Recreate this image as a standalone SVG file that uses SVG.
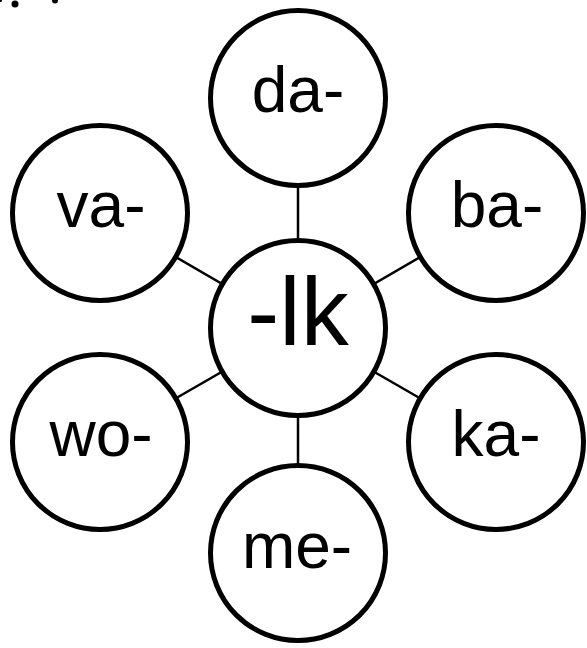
<svg xmlns="http://www.w3.org/2000/svg" width="587" height="648" viewBox="0 0 587 648">
<style>
.node{fill:#fff;stroke:#000;stroke-width:5}
.lbl{font-family:"Liberation Sans",Arial,sans-serif;font-size:64px;fill:#000;text-anchor:middle}
.big{font-size:96px}
.edge{stroke:#000;stroke-width:2.5}
</style>
<rect width="587" height="648" fill="#fff"/>
<g id="marks" fill="#000">
<circle cx="15" cy="4" r="3.5"/>
<circle cx="55" cy="0.5" r="3"/>
<circle cx="0.5" cy="0.5" r="1.5"/>
</g>
<g id="connectors">
<line class="edge" x1="298" y1="328" x2="298" y2="98"/>
<line class="edge" x1="298" y1="328" x2="298" y2="553"/>
<line class="edge" x1="298" y1="328" x2="100" y2="213"/>
<line class="edge" x1="298" y1="328" x2="496" y2="213"/>
<line class="edge" x1="298" y1="328" x2="100" y2="442"/>
<line class="edge" x1="298" y1="328" x2="496" y2="442"/>
</g>
<g id="n-da"><circle class="node" cx="298" cy="98" r="87.5"/><text class="lbl" x="298" y="112">da-</text></g>
<g id="n-va"><circle class="node" cx="100" cy="213" r="87.5"/><text class="lbl" x="101" y="227">va-</text></g>
<g id="n-ba"><circle class="node" cx="496" cy="213" r="87.5"/><text class="lbl" x="497" y="227">ba-</text></g>
<g id="n-lk"><circle class="node" cx="298" cy="328" r="87.5"/><text class="lbl big" x="298" y="345">-lk</text></g>
<g id="n-wo"><circle class="node" cx="100" cy="442" r="87.5"/><text class="lbl" x="101" y="456">wo-</text></g>
<g id="n-ka"><circle class="node" cx="496" cy="442" r="87.5"/><text class="lbl" x="496" y="456">ka-</text></g>
<g id="n-me"><circle class="node" cx="298" cy="553" r="87.5"/><text class="lbl" x="297" y="568">me-</text></g>
</svg>
